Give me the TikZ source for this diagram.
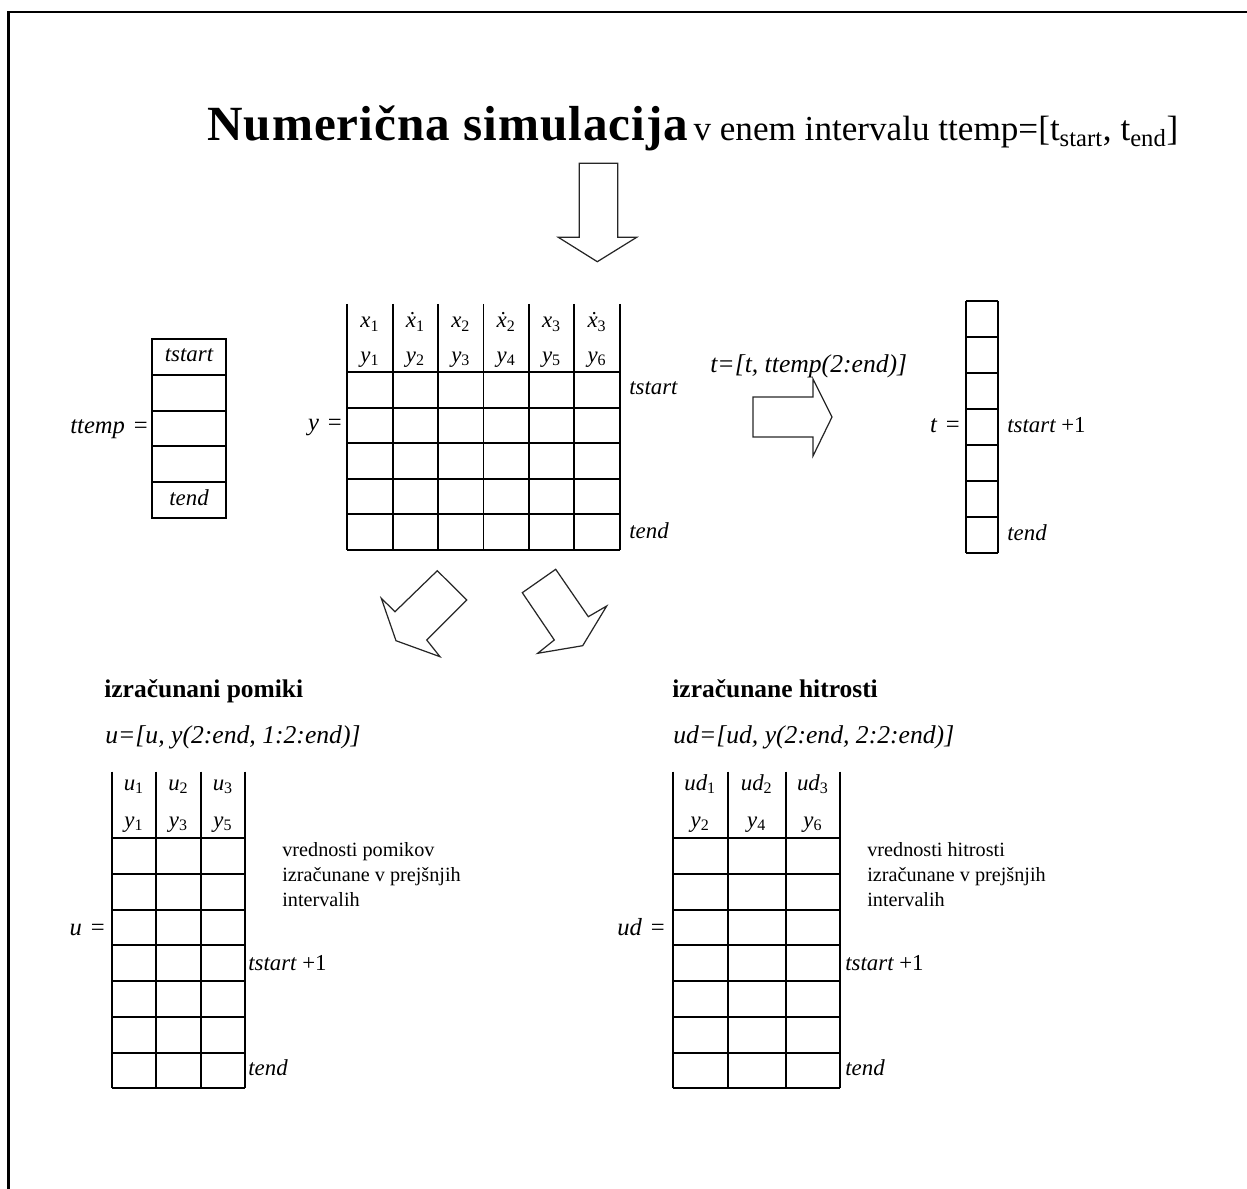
\documentclass[tikz,border=0pt]{standalone}
\usepackage{fontspec}
\setmainfont{Liberation Serif}
\newcommand{\vs}[2]{{\itshape #1}\textsubscript{#2}}
\begin{document}
\begin{tikzpicture}[x=0.02cm, y=-0.02cm,
    tabline/.style={line width=1.1pt},
    blk/.style={draw=black!85, line width=0.7pt, line join=miter},
    lab/.style={font=\fontsize{13}{15}\selectfont, inner sep=0pt},
    eqlab/.style={font=\fontsize{14}{16}\selectfont, inner sep=0pt, anchor=base east},
    frm/.style={font=\fontsize{14.6}{17}\selectfont\itshape, inner sep=0pt, anchor=base west},
    hd/.style={font=\fontsize{14.5}{17}\selectfont\bfseries, inner sep=0pt, anchor=base west},
    remark/.style={font=\fontsize{11.5}{14.2}\selectfont, align=left, inner sep=0pt, anchor=north west}]
  \useasboundingbox (0,0) rectangle (1247,1189);
  \draw[line width=1.7pt] (8.7,1189) -- (8.7,12) -- (1247,12);

  \node[inner sep=0pt, anchor=base west] (title) at (207,141)
    {{\fontsize{28}{32}\selectfont\bfseries\addfontfeature{LetterSpace=2}Numerična simulacija}\hspace{3pt}%
     {\fontsize{20}{24}\selectfont v enem intervalu ttemp=[t\textsubscript{start}, t\textsubscript{end}]}};
  \draw[blk] (579.3,163.3) -- (617.7,163.3) -- (617.7,237.3) -- (636.7,237.3) -- (597.3,261.7)
    -- (558.3,237.3) -- (579.3,237.3) -- cycle;

  \draw[tabline] (152,339) rectangle (226,518);
  \foreach \r in {1,...,4} \draw[tabline] (152,{339+35.8*\r}) -- (226,{339+35.8*\r});
  \node[lab, anchor=base] (ttstart) at (189,361) {\itshape tstart};
  \node[lab, anchor=base] (ttend) at (189,505) {\itshape tend};
  \node[eqlab] (ttemplab) at (148,433) {{\itshape ttemp}\hspace{5pt}=};

  \foreach \i in {0,...,6} \draw[tabline] ({347.3+45.4*\i},304) -- ({347.3+45.4*\i},550);
  \foreach \r in {0,...,5} \draw[tabline] (347.3,{372.3+35.54*\r}) -- (619.7,{372.3+35.54*\r});
  \foreach \v/\n [count=\i from 0] in {x/1,\.{x}/1,x/2,\.{x}/2,x/3,\.{x}/3}
    \node[lab, anchor=base] (yh\i) at ({370+45.4*\i},328) {\vs{\v}{\n}};
  \foreach \i in {1,...,6}
    \node[lab, anchor=base] (yy\i) at ({370+45.4*(\i-1)},362) {\vs{y}{\i}};
  \node[eqlab] (ylab) at (342,430) {{\itshape y}\hspace{5pt}=};
  \node[lab, anchor=base west] (ystart) at (629,395) {\itshape tstart};
  \node[lab, anchor=base west] (yend) at (629,538) {\itshape tend};

  \node[frm] (tform) at (710,373) {t=[t, ttemp(2:end)]};
  \draw[blk] (753,397) -- (813,397) -- (813,379) -- (832,417) -- (813,456) -- (813,437)
    -- (753,437) -- cycle;

  \draw[tabline] (966,301) -- (966,553) (998,301) -- (998,553);
  \foreach \r in {0,...,7} \draw[tabline] (966,{301+36*\r}) -- (998,{301+36*\r});
  \node[eqlab] (tlab) at (960,432) {{\itshape t}\hspace{5pt}=};
  \node[lab, anchor=base west] (tstart) at (1007,432) {{\itshape tstart} +1};
  \node[lab, anchor=base west] (tend) at (1007,540) {\itshape tend};

  \draw[blk] (437.3,570.7) -- (466.7,600) -- (426.7,640) -- (440,656.7) -- (396,640.7)
    -- (381.3,598.3) -- (395,611.7) -- cycle;
  \draw[blk] (555.7,569.3) -- (588.3,616.7) -- (606.7,606) -- (582.7,645.7) -- (537.7,653.3)
    -- (554.3,640) -- (522.3,592.7) -- cycle;

  \node[hd] (pomiki) at (104,697) {izračunani pomiki};
  \node[frm] (uform) at (105,743) {u=[u, y(2:end, 1:2:end)]};
  \foreach \c in {111.7,156,200.7,245} \draw[tabline] (\c,771.7) -- (\c,1088.3);
  \foreach \r in {0,...,7} \draw[tabline] (111.7,{838.3+35.71*\r}) -- (245,{838.3+35.71*\r});
  \foreach \n/\m/\c in {1/1/133.9,2/3/178.4,3/5/222.9} {
    \node[lab, anchor=base] (uh\n) at (\c,790) {\vs{u}{\n}};
    \node[lab, anchor=base] (uy\n) at (\c,827) {\vs{y}{\m}};
  }
  \node[eqlab] (ulab) at (105,935) {{\itshape u}\hspace{5pt}=};
  \node[lab, anchor=base west] (ustart) at (248,970) {{\itshape tstart} +1};
  \node[lab, anchor=base west] (uend) at (248,1075) {\itshape tend};
  \node[remark] (unote) at (282,842) {vrednosti pomikov\\izračunane v prejšnjih\\intervalih};

  \node[hd] (hitrosti) at (672,697) {izračunane hitrosti};
  \node[frm] (udform) at (673,743) {ud=[ud, y(2:end, 2:2:end)]};
  \foreach \c in {672.7,727.7,785.7,840} \draw[tabline] (\c,771.7) -- (\c,1088.3);
  \foreach \r in {0,...,7} \draw[tabline] (672.7,{838.3+35.71*\r}) -- (840,{838.3+35.71*\r});
  \foreach \n/\m/\c in {1/2/700.2,2/4/756.7,3/6/812.9} {
    \node[lab, anchor=base] (udh\n) at (\c,790) {\vs{ud}{\n}};
    \node[lab, anchor=base] (udy\n) at (\c,827) {\vs{y}{\m}};
  }
  \node[eqlab] (udlab) at (665,935) {{\itshape ud}\hspace{5pt}=};
  \node[lab, anchor=base west] (udstart) at (845,970) {{\itshape tstart} +1};
  \node[lab, anchor=base west] (udend) at (845,1075) {\itshape tend};
  \node[remark] (udnote) at (867,842) {vrednosti hitrosti\\izračunane v prejšnjih\\intervalih};
\end{tikzpicture}
\end{document}
